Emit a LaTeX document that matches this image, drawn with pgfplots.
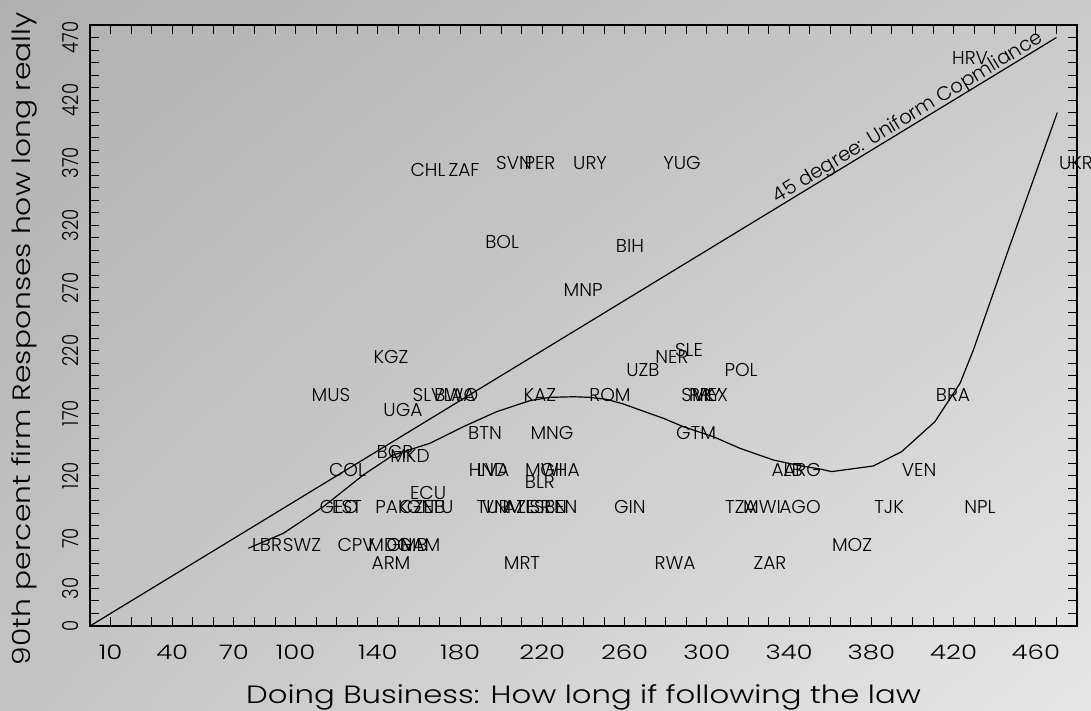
\documentclass[border=0pt]{standalone}
\usepackage{fontspec}
\setmainfont{Poppins}[UprightFont=* Light]
\usepackage{graphicx}
\usepackage{pgfplots}
\pgfplotsset{compat=1.18}
\usepackage{pgfplotstable}
\usetikzlibrary{backgrounds,calc,shadings}
\definecolor{bgul}{RGB}{176,176,176}
\definecolor{bgur}{RGB}{202,202,202}
\definecolor{bgll}{RGB}{196,196,196}
\definecolor{bglr}{RGB}{230,230,230}

\pgfplotstableread{
x y label
428.0 453.6 HRV
479.5 369.8 UKR
164.4 364.2 CHL
181.9 364.2 ZAF
206.2 369.8 SVN
218.8 369.8 PER
243.2 369.8 URY
287.9 369.8 YUG
200.4 306.7 BOL
262.6 303.5 BIH
239.8 268.4 MNP
291.3 220.4 SLE
146.4 214.8 KGZ
283.0 214.8 NER
268.9 204.5 UZB
316.6 204.5 POL
117.2 184.5 MUS
164.4 184.5 SLV
177.5 184.5 BWA
180.4 184.5 LAO
218.8 184.5 KAZ
252.9 184.5 ROM
295.7 184.5 SVK
299.1 184.5 PRY
301.5 184.5 MEX
419.7 184.5 BRA
152.2 172.5 UGA
192.1 154.1 BTN
224.7 154.1 MNG
294.7 154.1 GTM
148.3 139.0 BGR
155.6 135.8 MKD
125.2 124.6 COL
193.6 124.6 HND
196.0 124.6 LVA
220.8 124.6 MWI
228.6 124.6 GHA
339.0 124.6 ALB
346.3 124.6 ARG
403.2 124.6 VEN
218.8 115.0 BLR
164.4 106.2 ECU
121.1 95.0 GEO
125.0 95.0 EST
146.9 95.0 PAK
158.5 95.0 CZE
163.5 95.0 GNB
169.5 95.0 LTU
196.0 95.0 TUR
200.5 95.0 VNM
209.0 95.0 AZE
218.0 95.0 ISR
224.0 95.0 SEN
229.0 95.0 BEN
262.6 95.0 GIN
316.6 95.0 TZA
326.8 95.0 MWI
345.3 95.0 AGO
388.6 95.0 TJK
432.8 95.0 NPL
86.1 64.7 LBR
103.1 64.7 SWZ
129.4 64.7 CPV
145.9 64.7 MDG
154.2 64.7 GMB
160.5 64.7 NAM
370.6 64.7 MOZ
146.4 50.3 ARM
210.1 50.3 MRT
284.5 50.3 RWA
330.7 50.3 ZAR
}\labeldata

\pgfplotstableread{
x y
77.0 62.1
94.0 74.0
113.5 95.3
132.9 120.6
147.5 136.6
165.3 145.9
181.6 159.2
197.8 171.2
214.0 180.0
223.7 182.6
235.1 183.1
243.2 182.6
251.3 181.0
259.4 177.3
267.5 172.5
278.8 165.9
288.5 159.2
303.1 151.2
316.1 141.9
332.3 132.6
345.3 128.0
355.0 125.4
360.7 123.3
380.9 127.8
394.7 139.2
410.9 163.2
423.1 193.8
429.6 220.4
446.6 300.3
470.4 410.0
}\lowessdata

\begin{document}
\begin{tikzpicture}
\begin{axis}[
  name=ax, at={(0,0)}, anchor=south west,
  scale only axis, width=493.5pt, height=300.5pt,
  xmin=0, xmax=480, ymin=0, ymax=480,
  clip=false,
  axis line style={line width=1.3pt},
  tick align=inside,
  xtick={10,40,70,100,140,180,220,260,300,340,380,420,460},
  minor xtick={0,10,...,480},
  ytick={0,30,70,120,170,220,270,320,370,420,470},
  minor ytick={0,10,...,480},
  major tick length=4.5pt, minor tick length=4.5pt,
  tick style={black, line width=0.5pt},
  /pgf/number format/assume math mode=true,
  xticklabel style={font=\fontsize{10}{11}\selectfont},
  xticklabel shift=6pt,
  xticklabel={\scalebox{1.3}[1]{\pgfmathprintnumber{\tick}}},
  yticklabel style={font=\fontsize{11}{12}\selectfont, rotate=90, anchor=south},
  yticklabel shift=2.2pt,
  yticklabel={\scalebox{0.82}[1]{\pgfmathprintnumber{\tick}}},
  xlabel={\scalebox{1.23}[1]{Doing Business: How long if following the law}},
  ylabel={\scalebox{1.19}[1]{90th percent firm Responses how long really}},
  xlabel style={font=\fontsize{12.5}{13}\selectfont, at={(axis description cs:0.5,-0.1181)}, anchor=center, inner sep=0pt},
  ylabel style={font=\fontsize{12.5}{13}\selectfont, at={(axis description cs:-0.0669,0.478)}, anchor=center, inner sep=0pt},
]
\addplot[black, line width=0.6pt] coordinates {(0,0) (470,470)};
\addplot[black, line width=0.6pt] table[x=x, y=y] {\lowessdata};
\addplot[only marks, mark=none, nodes near coords, point meta=explicit symbolic,
  every node near coord/.style={anchor=center, inner sep=0pt, font=\fontsize{9.3}{10}\selectfont, black}]
  table[x=x, y=y, meta=label] {\labeldata};
\node[rotate=31.34, anchor=base, inner sep=0pt, font=\fontsize{9.8}{10}\selectfont] at (axis cs:399.2,402.5) {45 degree: Uniform Copmliance};
\end{axis}
\begin{scope}[on background layer]
\shade[upper left=bgul, upper right=bgur, lower left=bgll, lower right=bglr]
  ($(ax.south west)+(-45pt,-42.5pt)$) rectangle ($(ax.south west)+(500.5pt,313pt)$);
\end{scope}
\pgfresetboundingbox
\path[use as bounding box] ($(ax.south west)+(-45pt,-42.5pt)$) rectangle ($(ax.south west)+(500.5pt,313pt)$);
\end{tikzpicture}
\end{document}
